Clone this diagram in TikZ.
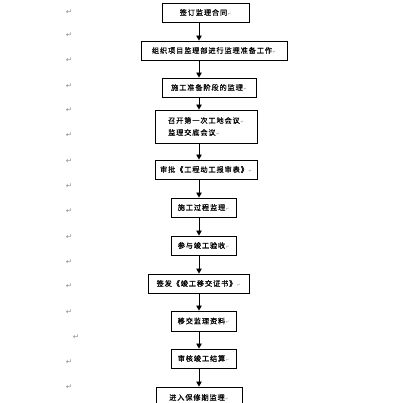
\documentclass[tikz,border=0pt]{standalone}
\usepackage{fontspec}
\usepackage{xcolor}
\usepackage{tikz}
\usetikzlibrary{positioning, arrows.meta}
\newfontfamily\cjk[LetterSpace=12, FakeBold=0.6]{Noto Sans CJK SC}
\newfontfamily\symfont{DejaVu Sans}
\definecolor{markgray}{HTML}{8C8C8C}
\newcommand{\pmark}{{\symfont\fontsize{4}{4}\selectfont\color{markgray}\,↵}}

\begin{document}
\begin{tikzpicture}[x=1pt, y=-1pt,
  stepbox/.style={draw, line width=0.9pt, inner sep=0pt, align=center, font=\cjk\fontsize{7.2}{12}\selectfont},
  flow/.style={-{Triangle[length=5pt, width=5.5pt]}, line width=0.8pt},
  retmark/.style={font=\symfont\fontsize{7.5}{7.5}\selectfont, text=markgray, inner sep=0pt}
]
  \useasboundingbox (0,0) rectangle (418,403);
  \coordinate (axis) at (199,0);

  % margin marks
  \foreach \yy in {12,35,60,86,110,135,161,186,211,237,262,286,312,362,387}
    \node[retmark] at (69,\yy) {↵};
  \node[retmark] at (76,337) {↵};

  % boxes
  \node[stepbox, minimum width=87pt, minimum height=19pt] (sign) at (205.5,12.5) {签订监理合同\pmark};
  \node[stepbox, minimum width=146pt, minimum height=19pt] (prep) at (214,50.5) {组织项目监理部进行监理准备工作\pmark};
  \node[stepbox, minimum width=94pt, minimum height=19pt] (stage) at (209,87.5) {施工准备阶段的监理\pmark};
  \node[stepbox, minimum width=102pt, minimum height=33pt, align=left] (meet) at (206,126.5) {召开第一次工地会议\pmark\\监理交底会议\pmark};
  \node[stepbox, minimum width=102pt, minimum height=19pt] (start) at (206,169.5) {审批《工程动工报审表》\pmark};
  \node[stepbox, minimum width=65pt, minimum height=19pt] (proc) at (203.5,207.5) {施工过程监理\pmark};
  \node[stepbox, minimum width=65pt, minimum height=19pt] (accept) at (203.5,245.5) {参与竣工验收\pmark};
  \node[stepbox, minimum width=101pt, minimum height=19pt] (cert) at (198.5,283.5) {签发《竣工移交证书》\pmark};
  \node[stepbox, minimum width=65pt, minimum height=20pt] (docs) at (203.5,321) {移交监理资料\pmark};
  \node[stepbox, minimum width=65pt, minimum height=19pt] (settle) at (203.5,358.5) {审核竣工结算\pmark};
  \node[stepbox, minimum width=86pt, minimum height=21pt] (warr) at (199,397.5) {进入保修期监理\pmark};

  % arrows
  \draw[flow] (sign.south -| axis) -- (prep.north -| axis);
  \draw[flow] (prep.south -| axis) -- (stage.north -| axis);
  \draw[flow] (stage.south -| axis) -- (meet.north -| axis);
  \draw[flow] (meet.south -| axis) -- (start.north -| axis);
  \draw[flow] (start.south -| axis) -- (proc.north -| axis);
  \draw[flow] (proc.south -| axis) -- (accept.north -| axis);
  \draw[flow] (accept.south -| axis) -- (cert.north -| axis);
  \draw[flow] (cert.south -| axis) -- (docs.north -| axis);
  \draw[flow] (docs.south -| axis) -- (settle.north -| axis);
  \draw[flow] (settle.south -| axis) -- (warr.north -| axis);
\end{tikzpicture}
\end{document}
